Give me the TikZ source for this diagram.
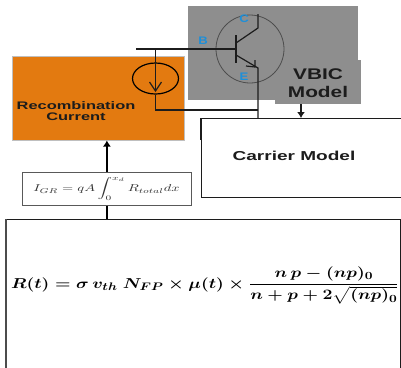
\documentclass[tikz,border=0pt]{standalone}
\usepackage{amsmath}
\usepackage{fontspec}
\setmainfont{Liberation Sans}
\usetikzlibrary{arrows.meta}
\usetikzlibrary{shapes.geometric}
\definecolor{vbicColor}{HTML}{8E8E8E}
\definecolor{recombColor}{HTML}{E37A10}
\definecolor{pinColor}{HTML}{1E8FD8}
\definecolor{lineColor}{HTML}{1C1C1C}
\def\textIntegral{$I_{GR} = qA \displaystyle\int_0^{x_d} R_{total} dx$}
\def\textRate{$R(t) = \sigma\, v_{th}\ N_{FP} \times \mu(t) \times \dfrac{n\,p - (np)_0}{n + p + 2\sqrt{(np)_0}}$}
\tikzset{
  labelText/.style={font=\bfseries, text=lineColor, inner sep=0pt, align=center},
  pinText/.style={font=\bfseries\fontsize{11}{13}\selectfont, text=pinColor, inner sep=0pt},
  block/.style={rectangle, inner sep=0pt, anchor=north west},
  wire/.style={draw=lineColor, line width=1.2pt},
  feed/.style={draw=black, line width=1.8pt},
  tip/.style={-{Latex[length=6bp,width=8bp]}}
}
\begin{document}
\begin{tikzpicture}[x=1bp,y=-1bp]
\useasboundingbox (0, 0) rectangle (401, 368);
\clip (0, 0) rectangle (401, 368);

% background blocks
\node[block, fill=vbicColor, minimum width=170bp, minimum height=94bp] (vbicTop) at (188, 6) {};
\node[block, fill=vbicColor, minimum width=86bp, minimum height=44bp] (vbicTag) at (275, 60) {};
\node[block, fill=recombColor, minimum width=171bp, minimum height=84bp, draw=black!25, line width=.5pt] (recomb) at (12.5, 56) {};
\node[block, draw=lineColor, line width=1.5pt, fill=white, minimum width=220bp, minimum height=79bp] (carrier) at (201, 118) {};
\draw[lineColor, line width=2.2pt] (carrier.north west) -- ++(0, 22);
\node[block, draw=black!65, line width=.8pt, fill=white, minimum width=169bp, minimum height=33bp] (integral) at (22, 172) {};
\node[block, draw=lineColor, line width=.8pt, fill=white, minimum width=394bp, minimum height=160bp] (rate) at (6, 219) {};
\draw[black!70, line width=2pt] (rate.north west) -- (rate.south west);

% transistor
\node[circle, draw=black!70, line width=.8pt, inner sep=0pt, minimum size=68bp] (bjt) at (250, 49) {};
\coordinate (baseEnd) at (136, 49);
\coordinate (baseTap) at (155.5, 49);
\coordinate (baseBar) at (236, 49);
\coordinate (barTop) at (236, 35);
\coordinate (barBot) at (236, 63);
\coordinate (colIn) at (236, 43);
\coordinate (colKnee) at (258, 28);
\coordinate (colEnd) at (258, 14);
\coordinate (emiIn) at (236, 55);
\coordinate (emiKnee) at (258, 68);
\coordinate (emiEnd) at (258, 118);
\coordinate (srcCorner) at (155.5, 110);
\coordinate (srcJoin) at (258, 110);
\draw[wire] (baseEnd) -- (baseBar);
\draw[wire] (barTop) -- (barBot);
\draw[wire] (colIn) -- (colKnee) -- (colEnd);
\draw[wire] (emiIn) -- (emiKnee) -- (emiEnd);
\draw[wire] (emiKnee) ++(-3, -8) -- ++(0, 7) -- ++(-9, -1);

% current source
\node[ellipse, draw=black, line width=1.2pt, inner sep=0pt, minimum width=46bp, minimum height=31bp] (source) at (155.5, 78.5) {};
\coordinate (arrowEnd) at (155.5, 91);
\draw[wire] (baseTap) -- (source.north);
\draw[wire] (source.north) -- (arrowEnd);
\draw[wire] (arrowEnd) ++(-6, -9) -- (arrowEnd) -- ++(6, -9);
\draw[wire] (source.south) -- (srcCorner) -- (srcJoin);

% pin labels
\node[pinText] (pinC) at (244, 19) {\scalebox{1.2}[1]{C}};
\node[pinText] (pinB) at (203, 41) {\scalebox{1.2}[1]{B}};
\node[pinText] (pinE) at (244, 77) {\scalebox{1.2}[1]{E}};

% block labels
\node[labelText, font=\bfseries\fontsize{15.5}{18}\selectfont] (vbicText) at (318, 83.5) {\scalebox{1.35}[1]{\shortstack{VBIC\\[4pt]Model}}};
\node[labelText, font=\bfseries\fontsize{11}{11}\selectfont] (recombText) at (76, 111) {\scalebox{1.5}[1]{\shortstack{Recombination\\Current}}};
\node[labelText, font=\bfseries\fontsize{13}{13}\selectfont] (carrierText) at (294, 156) {\scalebox{1.47}[1]{Carrier Model}};

% formulas
\node[inner sep=0pt, text=black!80, font=\fontsize{10}{12}\selectfont] (integralText) at (106.5, 189) {\scalebox{1.45}[1]{\textIntegral}};
\node[inner sep=0pt, font=\fontsize{15}{18}\selectfont\boldmath] (rateText) at (205, 285.5) {\scalebox{1.235}[1]{\textRate}};

% feeds
\coordinate (vbicTap) at (301, 104);
\draw[feed, tip] (integral.north) -- (integral.north |- recomb.south);
\draw[feed] (integral.south) -- (integral.south |- rate.north);
\draw[wire, line width=1.4pt, tip] (vbicTap) -- (vbicTap |- carrier.north);
\end{tikzpicture}
\end{document}
